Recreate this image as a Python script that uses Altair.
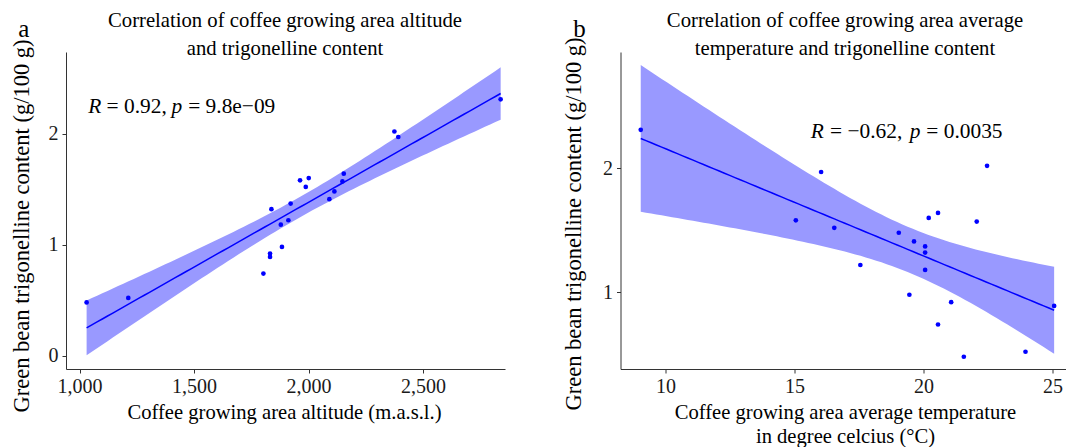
import numpy as np
import pandas as pd
import altair as alt

# Green bean trigonelline content (g/100 g) for the 20 coffee growing areas
trigonelline = [0.48, 0.52, 0.74, 0.89, 0.92, 0.98, 1.18, 1.22, 1.32, 1.37,
                1.41, 1.48, 1.52, 1.57, 1.58, 1.60, 1.64, 1.97, 2.02, 2.31]
# Altitude of each growing area (m.a.s.l.), same order
altitude = [1031, 1213, 1803, 1832, 1832, 1884, 1879, 1912, 1838, 1922,
            2091, 2113, 1988, 2148, 1963, 2001, 2154, 2392, 2375, 2839]
# Average temperature of each growing area (°C), same order
temperature = [21.56, 23.95, 20.56, 25.06, 21.07, 19.45, 20.06, 17.55, 20.06, 20.06,
               19.63, 19.04, 16.54, 22.06, 15.05, 20.20, 20.56, 16.03, 22.46, 9.04]

altitude_ticks = [1000, 1500, 2000, 2500]
temperature_ticks = [10, 15, 20, 25]
content_ticks_a = [0, 1, 2]
content_ticks_b = [1, 2]

SERIF = "Liberation Serif, Times New Roman, serif"
BLUE = "#0000FF"
BAND = "#9999FF"
T_CRIT = 2.1009  # two-sided 95 % Student t quantile, n - 2 = 18 degrees of freedom
HEIGHT = 317


def fit_band(x, y, n_grid=80):
    """Least-squares line with its 95 % confidence band for the mean."""
    x = np.asarray(x, float)
    y = np.asarray(y, float)
    n = len(x)
    slope, intercept = np.polyfit(x, y, 1)
    resid = y - (intercept + slope * x)
    s = np.sqrt(resid @ resid / (n - 2))
    sxx = ((x - x.mean()) ** 2).sum()
    grid = np.linspace(x.min(), x.max(), n_grid)
    fit = intercept + slope * grid
    se = s * np.sqrt(1.0 / n + (grid - x.mean()) ** 2 / sxx)
    return pd.DataFrame({"x": grid, "fit": fit,
                         "lo": fit - T_CRIT * se, "hi": fit + T_CRIT * se})


def text_layer(txt, x, y, size, **kw):
    return alt.Chart(pd.DataFrame({"t": [txt]})).mark_text(
        font=SERIF, fontSize=size, color="black", **kw
    ).encode(text="t:N", x=alt.value(x), y=alt.value(y))


def frame_anchor(x1, y1, x2, y2):
    # invisible rule that fixes the outer margin of the figure
    return alt.Chart(pd.DataFrame({"k": [0]})).mark_rule(
        strokeOpacity=0, opacity=0
    ).encode(x=alt.value(x1), y=alt.value(y1), x2=alt.value(x2), y2=alt.value(y2))


def panel(xs, x_domain, x_ticks, x_format, x_title, x_title_x,
          y_domain, y_ticks, y_title_x, y_title_y, width,
          stat_pos, stat_parts, letter, letter_x, letter_y,
          title_lines, title_x, anchor):
    pts = pd.DataFrame({"x": xs, "y": trigonelline})
    band = fit_band(xs, trigonelline)

    xscale = alt.Scale(domain=x_domain, nice=False, zero=False)
    yscale = alt.Scale(domain=y_domain, nice=False, zero=False)
    axis_common = dict(grid=False, domainColor="#333333", tickColor="#333333",
                       tickSize=4, labelFont=SERIF, labelFontSize=20,
                       labelColor="#1a1a1a", titleFont=SERIF,
                       titleFontWeight="normal", titleColor="black")
    xaxis = alt.Axis(values=x_ticks, format=x_format, labelPadding=3,
                     title=x_title, titleFontSize=20.6, titleLineHeight=24.5,
                     titleBaseline="alphabetic", titleAlign="center",
                     titleX=x_title_x, titleY=49, **axis_common)
    yaxis = alt.Axis(values=y_ticks, format="d", labelPadding=4,
                     title="Green bean trigonelline content (g/100 g)",
                     titleFontSize=22.5, titleAngle=270, titleAlign="left",
                     titleBaseline="middle", titleX=y_title_x, titleY=y_title_y,
                     **axis_common)

    area = alt.Chart(band).mark_area(color=BAND, opacity=1, clip=True).encode(
        x=alt.X("x:Q", scale=xscale, axis=xaxis),
        y=alt.Y("lo:Q", scale=yscale, axis=yaxis),
        y2="hi:Q",
    )
    line = alt.Chart(band).mark_line(color=BLUE, strokeWidth=1.5, clip=True).encode(
        x="x:Q", y="fit:Q")
    dots = alt.Chart(pts).mark_circle(color=BLUE, size=22, opacity=1).encode(
        x="x:Q", y="y:Q")

    # R / p statistic, with italic symbols
    sx, sy = stat_pos
    stat_layers = []
    for txt, style, dx in stat_parts:
        stat_layers.append(
            alt.Chart(pd.DataFrame({"x": [sx], "y": [sy], "t": [txt]})).mark_text(
                font=SERIF, fontSize=21.4, fontStyle=style, color="black",
                align="left", baseline="alphabetic", dx=dx
            ).encode(x="x:Q", y="y:Q", text="t:N")
        )

    titles = [
        text_layer(title_lines[0], title_x, -25.3, 20.7,
                   align="center", baseline="alphabetic"),
        text_layer(title_lines[1], title_x, 3, 20.7,
                   align="center", baseline="alphabetic"),
        text_layer(letter, letter_x, letter_y, 25,
                   align="left", baseline="alphabetic"),
    ]

    return alt.layer(area, line, dots, *stat_layers, *titles,
                     frame_anchor(*anchor)).properties(width=width, height=HEIGHT)


panel_a = panel(
    altitude, [941, 2858], altitude_ticks, ",d",
    "Coffee growing area altitude (m.a.s.l.)", 218,
    [-0.12, 2.736], content_ticks_a, -44.3, 360, 439,
    (1038, 2.184),
    [("R", "italic", 0), ("= 0.92,", "normal", 18.4),
     ("p", "italic", 83.4), ("= 9.8e\u221209", "normal", 100)],
    "a", -47.7, -15.3,
    ["Correlation of coffee growing area altitude", "and trigonelline content"],
    219,
    (-66, -52, 0, 0),
)

panel_b = panel(
    temperature, [8.256, 25.50], temperature_ticks, "d",
    ["Coffee growing area average temperature", "in degree celcius (\u00b0C)"], 224.5,
    [0.381, 2.938], content_ticks_b, -47.2, 358, 445,
    (15.63, 2.247),
    [("R", "italic", 0), ("= \u22120.62,", "normal", 19.3),
     ("p", "italic", 99), ("= 0.0035", "normal", 115.5)],
    "b", -47.2, -14.7,
    ["Correlation of coffee growing area average",
     "temperature and trigonelline content"],
    224.5,
    (445, HEIGHT, 446.5, HEIGHT + 78),
)

chart = alt.hconcat(panel_a, panel_b, spacing=115.5, bounds="flush").properties(
    padding=0,
).configure_view(stroke=None)

chart.save("out.html", embed_options={"renderer": "svg", "actions": False})
